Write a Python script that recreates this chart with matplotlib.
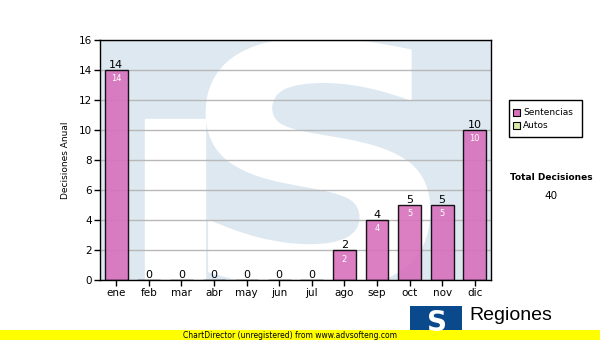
import matplotlib
matplotlib.use("Agg")
import matplotlib.pyplot as plt
from matplotlib.patches import Rectangle, PathPatch
from matplotlib.textpath import TextPath
from matplotlib.font_manager import FontProperties
from matplotlib.transforms import Affine2D

months = ["ene", "feb", "mar", "abr", "may", "jun", "jul", "ago", "sep", "oct", "nov", "dic"]
sentencias = [14, 0, 0, 0, 0, 0, 0, 2, 4, 5, 5, 10]
autos = [0, 0, 0, 0, 0, 0, 0, 0, 0, 0, 0, 0]
total = 40
yticks = [0, 2, 4, 6, 8, 10, 12, 14, 16]

plt.rcParams['font.family'] = ['DejaVu Sans']

fig = plt.figure(figsize=(6, 3.4), dpi=100)
ax = fig.add_axes([100/600, 1-280/340, 391/600, 240/340])

# watermark background
ax.set_facecolor('#dde8f1')
x = list(range(len(months)))
ax.set_xlim(-0.5, len(months) - 0.5)
ax.set_ylim(0, 16)
ax.add_patch(Rectangle((0.88, 0), 1.85, 10.7, transform=ax.transData, color='white', zorder=0.3))

tp = TextPath((0, 0), "S", size=100, prop=FontProperties(family='DejaVu Sans', weight='bold'))
ext = tp.get_extents()
x0, x1, y0, y1 = 0.27, 0.845, -0.04, 1.01
tr = (Affine2D().translate(-ext.x0, -ext.y0)
      .scale((x1 - x0) / ext.width, (y1 - y0) / ext.height)
      .translate(x0, y0))
spatch = PathPatch(tr.transform_path(tp), transform=ax.transAxes, facecolor='white',
                   edgecolor='none', zorder=0.4)
ax.add_patch(spatch)
spatch.set_clip_path(ax.patch)

ax.yaxis.grid(True, color='#b8b8b8', linewidth=1)
ax.set_axisbelow(True)

bars = ax.bar(x, sentencias, width=0.7, color='#d870bc', alpha=0.9, edgecolor='black',
              linewidth=1, zorder=2)

for xi, v in zip(x, sentencias):
    ax.text(xi, v + 0.02, str(v), ha='center', va='bottom', fontsize=8, color='black', zorder=3)
    if v > 0:
        ax.text(xi, v - 0.3, str(v), ha='center', va='top', fontsize=6, color='white', zorder=3)

ax.set_xticks(x)
ax.set_xticklabels(months, fontsize=7.5)
ax.set_yticks(yticks)
ax.set_yticklabels([str(t) for t in yticks], fontsize=7.5)
ax.tick_params(axis='both', length=4, width=1, direction='out', pad=2)
ax.set_ylabel("Decisiones Anual", fontsize=6.5, labelpad=6)
for s in ax.spines.values():
    s.set_color('black')
    s.set_linewidth(1)
    s.set_zorder(3)

# legend
fig.patches.append(Rectangle((509/600, 1-137/340), 73/600, 37/340, transform=fig.transFigure,
                             facecolor='white', edgecolor='black', linewidth=1))
fig.patches.append(Rectangle((513/600, 1-116/340), 7/600, 7/340, transform=fig.transFigure,
                             facecolor='#d870bc', edgecolor='black', linewidth=0.8))
fig.patches.append(Rectangle((513/600, 1-129/340), 7/600, 7/340, transform=fig.transFigure,
                             facecolor='#d8eaa8', edgecolor='black', linewidth=0.8))
fig.text(523/600, 1-113/340, "Sentencias", fontsize=6.5, va='center', ha='left')
fig.text(523/600, 1-126/340, "Autos", fontsize=6.5, va='center', ha='left')

fig.text(551/600, 1-178/340, "Total Decisiones", fontsize=6.5, fontweight='bold', ha='center', va='center')
fig.text(551/600, 1-196/340, str(total), fontsize=7.5, ha='center', va='center')

# footer
fig.patches.append(Rectangle((0, 0), 1, 10/340, transform=fig.transFigure, facecolor='#ffff00',
                             edgecolor='none'))
fig.text(290/600, 5/340, "ChartDirector (unregistered) from www.advsofteng.com", fontsize=5.5,
         ha='center', va='center')
fig.patches.append(Rectangle((410/600, 0), 52/600, 34/340, transform=fig.transFigure,
                             facecolor='#0a4a8c', edgecolor='none', zorder=-1))
fig.text(437/600, 17/340, "S", fontsize=20, fontweight='bold', family='DejaVu Sans',
         color='white', ha='center', va='center')
fig.text(469/600, 1-316/340, "Regiones", fontsize=14, family='Liberation Sans', ha='left', va='center')

fig.savefig("out.png", dpi=100)
